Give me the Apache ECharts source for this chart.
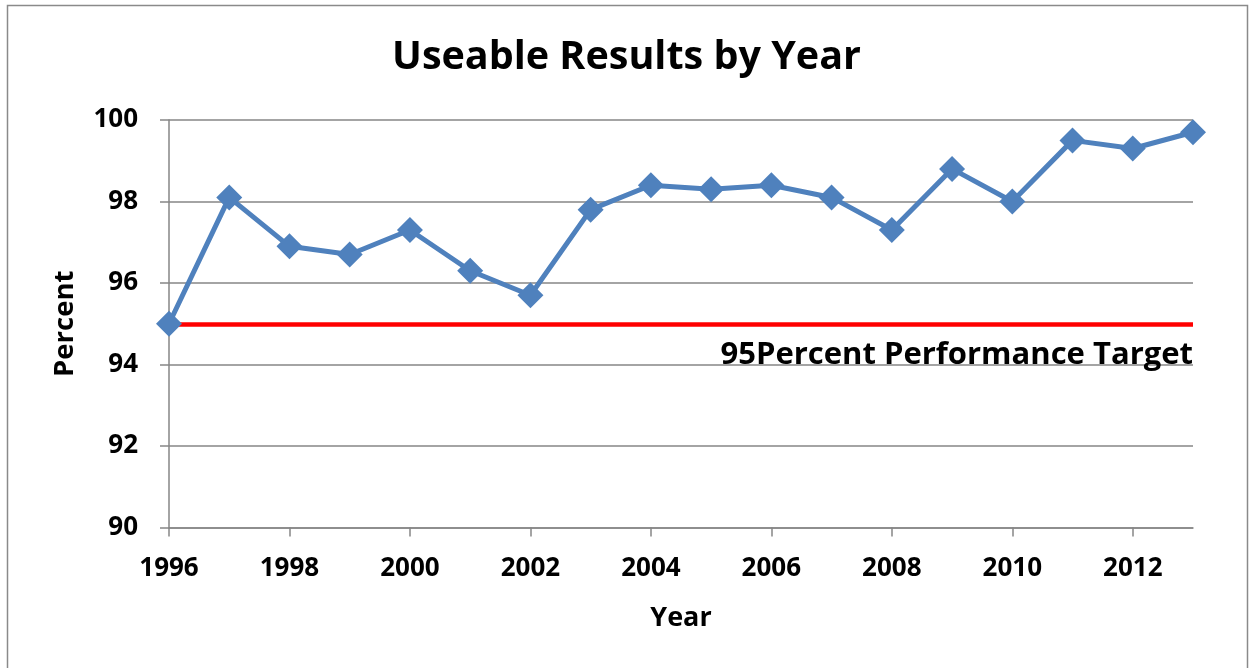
<!DOCTYPE html>
<html>
<head>
<meta charset="utf-8">
<script src="https://cdn.jsdelivr.net/npm/echarts@6/dist/echarts.min.js"></script>
<style>
  html, body { margin: 0; padding: 0; background: #fff; }
  #chart { width: 1253px; height: 668px; }
</style>
</head>
<body>
<div id="chart"></div>
<script>
// Useable results per year (percent)
const years = ['1996','1997','1998','1999','2000','2001','2002','2003','2004',
               '2005','2006','2007','2008','2009','2010','2011','2012','2013'];
const useable = [95.0, 98.1, 96.9, 96.7, 97.3, 96.3, 95.7, 97.8, 98.4,
                 98.3, 98.4, 98.1, 97.3, 98.8, 98.0, 99.5, 99.3, 99.7];
const targetValue = 95;
const targetLabel = '95Percent Performance Target';
const yTicks = { min: 90, max: 100, interval: 2 };

const FONT = 'Open Sans';
const chart = echarts.init(document.getElementById('chart'), null, { renderer: 'canvas' });

chart.setOption({
  backgroundColor: '#ffffff',
  animation: false,
  title: {
    text: 'Useable Results by Year',
    left: 'center',
    top: 33,
    textStyle: { fontFamily: FONT, fontWeight: 'bold', fontSize: 39.5, color: '#000' }
  },
  graphic: [{
    type: 'rect',
    shape: { x: 7.5, y: 5.5, width: 1240, height: 700 },
    style: { fill: 'none', stroke: '#8a8a8a', lineWidth: 1.5 },
    silent: true
  }],
  grid: { left: 169, right: 60, top: 120, bottom: 140.5, containLabel: false },
  xAxis: {
    type: 'category',
    data: years,
    boundaryGap: false,
    name: 'Year',
    nameLocation: 'middle',
    nameGap: 77,
    nameTextStyle: { fontFamily: FONT, fontWeight: 'bold', fontSize: 27, color: '#000' },
    axisLine: { lineStyle: { color: '#868686', width: 1.5 } },
    axisTick: { show: true, interval: 1, length: 9, inside: false, lineStyle: { color: '#868686', width: 1.5 } },
    axisLabel: { interval: 1, margin: 28, fontFamily: FONT, fontWeight: 'bold', fontSize: 26, color: '#000' },
    splitLine: { show: false }
  },
  yAxis: {
    type: 'value',
    min: yTicks.min,
    max: yTicks.max,
    interval: yTicks.interval,
    name: 'Percent',
    nameLocation: 'middle',
    nameGap: 90,
    nameTextStyle: { fontFamily: FONT, fontWeight: 'bold', fontSize: 27.5, color: '#000' },
    axisLine: { show: true, lineStyle: { color: '#868686', width: 1.5 } },
    axisTick: { show: true, length: 9, inside: false, lineStyle: { color: '#868686', width: 1.5 } },
    axisLabel: { margin: 31, fontFamily: FONT, fontWeight: 'bold', fontSize: 26, color: '#000' },
    splitLine: { show: true, lineStyle: { color: '#868686', width: 1.5 } }
  },
  series: [{
    name: 'Useable Results',
    type: 'line',
    data: useable,
    symbol: 'diamond',
    symbolSize: 26,
    lineStyle: { color: '#4F81BD', width: 5 },
    itemStyle: { color: '#4F81BD' },
    z: 3,
    markLine: {
      silent: true,
      symbol: ['none', 'none'],
      z: 2,
      lineStyle: { color: '#FF0000', width: 4.5, type: 'solid' },
      label: {
        show: true,
        position: 'insideEndBottom',
        formatter: targetLabel,
        distance: [0, 16],
        fontFamily: FONT, fontWeight: 'bold', fontSize: 31, color: '#000'
      },
      data: [{ yAxis: targetValue }]
    }
  }]
});
</script>
</body>
</html>
